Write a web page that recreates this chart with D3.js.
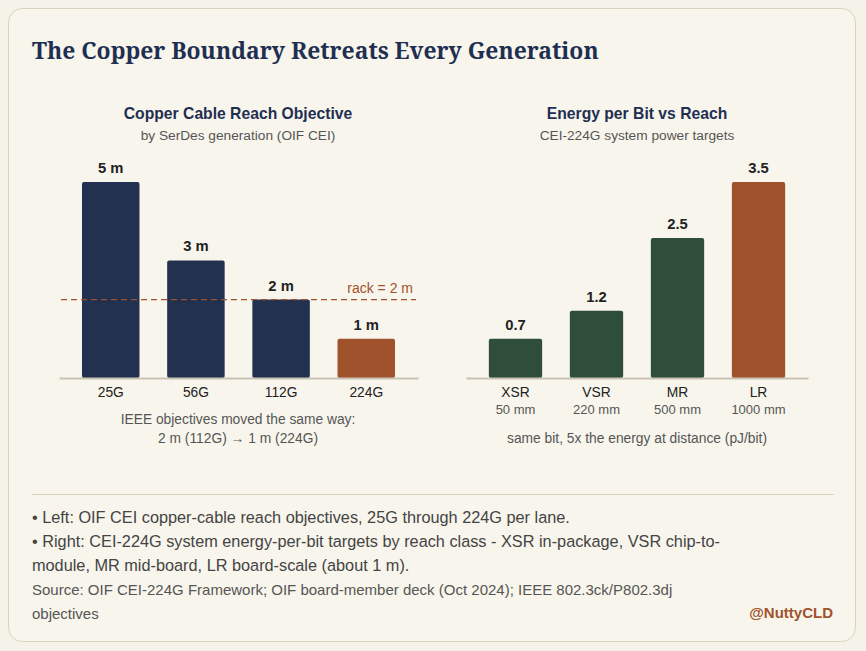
<!DOCTYPE html>
<html>
<head>
<meta charset="utf-8">
<script src="https://cdn.jsdelivr.net/npm/d3@7"></script>
<style>
  body { margin: 0; background: #f5f2e9; }
  svg { display: block; }
</style>
</head>
<body>
<div id="chart"></div>
<script>
var width = 866, height = 651;

// left panel data
var generations = ["25G", "56G", "112G", "224G"];
var reachMeters = [5, 3, 2, 1];
var rackReach = 2;

// right panel data
var reachClasses = ["XSR", "VSR", "MR", "LR"];
var reachDistances = ["50 mm", "220 mm", "500 mm", "1000 mm"];
var energyPerBit = [0.7, 1.2, 2.5, 3.5];

var bulletLines = [
  "\u2022 Left: OIF CEI copper-cable reach objectives, 25G through 224G per lane.",
  "\u2022 Right: CEI-224G system energy-per-bit targets by reach class - XSR in-package, VSR chip-to-",
  "module, MR mid-board, LR board-scale (about 1 m)."
];
var sourceLines = [
  "Source: OIF CEI-224G Framework; OIF board-member deck (Oct 2024); IEEE 802.3ck/P802.3dj",
  "objectives"
];

var navy = "#22314f", green = "#2f4d3b", rust = "#a0522d";
var sans = "'Liberation Sans', Arial, sans-serif";

var svg = d3.select("#chart")
  .append("svg")
    .attr("width", width)
    .attr("height", height)
    .style("font-family", sans);

// card
svg.append("rect")
  .attr("x", 8.5).attr("y", 8.5)
  .attr("width", 847).attr("height", 633)
  .attr("rx", 14)
  .attr("fill", "#f8f5ec")
  .attr("stroke", "#d8d2bf");

svg.append("text")
  .attr("x", 32).attr("y", 58.5)
  .attr("font-family", "'Noto Serif', Georgia, serif")
  .attr("font-weight", "bold")
  .attr("font-size", 22.9)
  .attr("fill", "#1f2f52")
  .text("The Copper Boundary Retreats Every Generation");

var baseY = 378, topY = 182;

var panelTitles = function(cx, title, sub){
  svg.append("text")
    .attr("x", cx).attr("y", 119)
    .attr("text-anchor", "middle")
    .attr("font-weight", "bold")
    .attr("font-size", 15.7)
    .attr("fill", "#1f2f52")
    .text(title);
  svg.append("text")
    .attr("x", cx).attr("y", 140)
    .attr("text-anchor", "middle")
    .attr("font-size", 13.7)
    .attr("fill", "#555")
    .text(sub);
}

// ---- left chart ----
panelTitles(238, "Copper Cable Reach Objective", "by SerDes generation (OIF CEI)");

var x1 = d3.scaleBand()
  .domain(generations)
  .range([59, 418])
  .paddingInner(0.325)
  .paddingOuter(0.27);

var y1 = d3.scaleLinear()
  .domain([0, 5])
  .range([baseY, topY]);

var left = svg.append("g");

left.selectAll(".bar")
  .data(generations)
  .enter().append("rect")
    .attr("x", function(d){ return x1(d); })
    .attr("y", function(d, i){ return y1(reachMeters[i]); })
    .attr("width", x1.bandwidth())
    .attr("height", function(d, i){ return baseY - y1(reachMeters[i]); })
    .attr("rx", 2)
    .attr("fill", function(d, i){ return i == generations.length - 1 ? rust : navy; });

left.selectAll(".val")
  .data(generations)
  .enter().append("text")
    .attr("x", function(d){ return x1(d) + x1.bandwidth() / 2; })
    .attr("y", function(d, i){ return y1(reachMeters[i]) - 9; })
    .attr("text-anchor", "middle")
    .attr("font-weight", "bold")
    .attr("font-size", 14.8)
    .attr("fill", "#222")
    .text(function(d, i){ return reachMeters[i] + " m"; });

// rack line
left.append("line")
  .attr("x1", 61).attr("x2", 416)
  .attr("y1", y1(rackReach)).attr("y2", y1(rackReach))
  .attr("stroke", rust)
  .attr("stroke-width", 1.2)
  .attr("stroke-dasharray", "6,4");
left.append("text")
  .attr("x", 413).attr("y", y1(rackReach) - 7)
  .attr("text-anchor", "end")
  .attr("font-size", 14)
  .attr("fill", rust)
  .text("rack = " + rackReach + " m");

var ax1 = left.append("g")
  .attr("transform", "translate(0," + baseY + ")")
  .call(d3.axisBottom(x1).tickSize(0).tickPadding(9));
ax1.select(".domain").attr("stroke", "#c9c3b3").attr("stroke-width", 2);
ax1.selectAll("text").attr("font-size", 13.8).attr("fill", "#222").style("font-family", sans);

left.append("text")
  .attr("x", 238).attr("y", 424)
  .attr("text-anchor", "middle").attr("font-size", 13.8).attr("fill", "#555")
  .text("IEEE objectives moved the same way:");
left.append("text")
  .attr("x", 238).attr("y", 443)
  .attr("text-anchor", "middle").attr("font-size", 13.8).attr("fill", "#555")
  .text("2 m (112G) \u2192 1 m (224G)");

// ---- right chart ----
panelTitles(637, "Energy per Bit vs Reach", "CEI-224G system power targets");

var x2 = d3.scaleBand()
  .domain(reachClasses)
  .range([466, 808])
  .paddingInner(0.342)
  .paddingOuter(0.282);

var y2 = d3.scaleLinear()
  .domain([0, 3.5])
  .range([baseY, topY]);

var right = svg.append("g");

right.selectAll(".bar")
  .data(reachClasses)
  .enter().append("rect")
    .attr("x", function(d){ return x2(d); })
    .attr("y", function(d, i){ return y2(energyPerBit[i]); })
    .attr("width", x2.bandwidth())
    .attr("height", function(d, i){ return baseY - y2(energyPerBit[i]); })
    .attr("rx", 2)
    .attr("fill", function(d, i){ return i == reachClasses.length - 1 ? rust : green; });

right.selectAll(".val")
  .data(reachClasses)
  .enter().append("text")
    .attr("x", function(d){ return x2(d) + x2.bandwidth() / 2; })
    .attr("y", function(d, i){ return y2(energyPerBit[i]) - 9; })
    .attr("text-anchor", "middle")
    .attr("font-weight", "bold")
    .attr("font-size", 14.8)
    .attr("fill", "#222")
    .text(function(d, i){ return energyPerBit[i]; });

var ax2 = right.append("g")
  .attr("transform", "translate(0," + baseY + ")")
  .call(d3.axisBottom(x2).tickSize(0).tickPadding(9));
ax2.select(".domain").attr("stroke", "#c9c3b3").attr("stroke-width", 2);
ax2.selectAll("text").attr("font-size", 13.8).attr("fill", "#222").style("font-family", sans);

right.selectAll(".dist")
  .data(reachClasses)
  .enter().append("text")
    .attr("x", function(d){ return x2(d) + x2.bandwidth() / 2; })
    .attr("y", 414)
    .attr("text-anchor", "middle")
    .attr("font-size", 13)
    .attr("fill", "#555")
    .text(function(d, i){ return reachDistances[i]; });

right.append("text")
  .attr("x", 637).attr("y", 443)
  .attr("text-anchor", "middle").attr("font-size", 13.8).attr("fill", "#555")
  .text("same bit, 5x the energy at distance (pJ/bit)");

// ---- footer ----
svg.append("line")
  .attr("x1", 32).attr("x2", 834)
  .attr("y1", 494.5).attr("y2", 494.5)
  .attr("stroke", "#d8d2bf");

svg.selectAll(".bullet")
  .data(bulletLines)
  .enter().append("text")
    .attr("x", 32)
    .attr("y", function(d, i){ return 523 + i * 24; })
    .attr("font-size", 16.3)
    .attr("fill", "#444")
    .text(function(d){ return d; });

svg.selectAll(".src")
  .data(sourceLines)
  .enter().append("text")
    .attr("x", 32)
    .attr("y", function(d, i){ return 594.5 + i * 24; })
    .attr("font-size", 15)
    .attr("fill", "#555")
    .text(function(d){ return d; });

svg.append("text")
  .attr("x", 833).attr("y", 618)
  .attr("text-anchor", "end")
  .attr("font-weight", "bold")
  .attr("font-size", 15)
  .attr("fill", rust)
  .text("@NuttyCLD");
</script>
</body>
</html>
